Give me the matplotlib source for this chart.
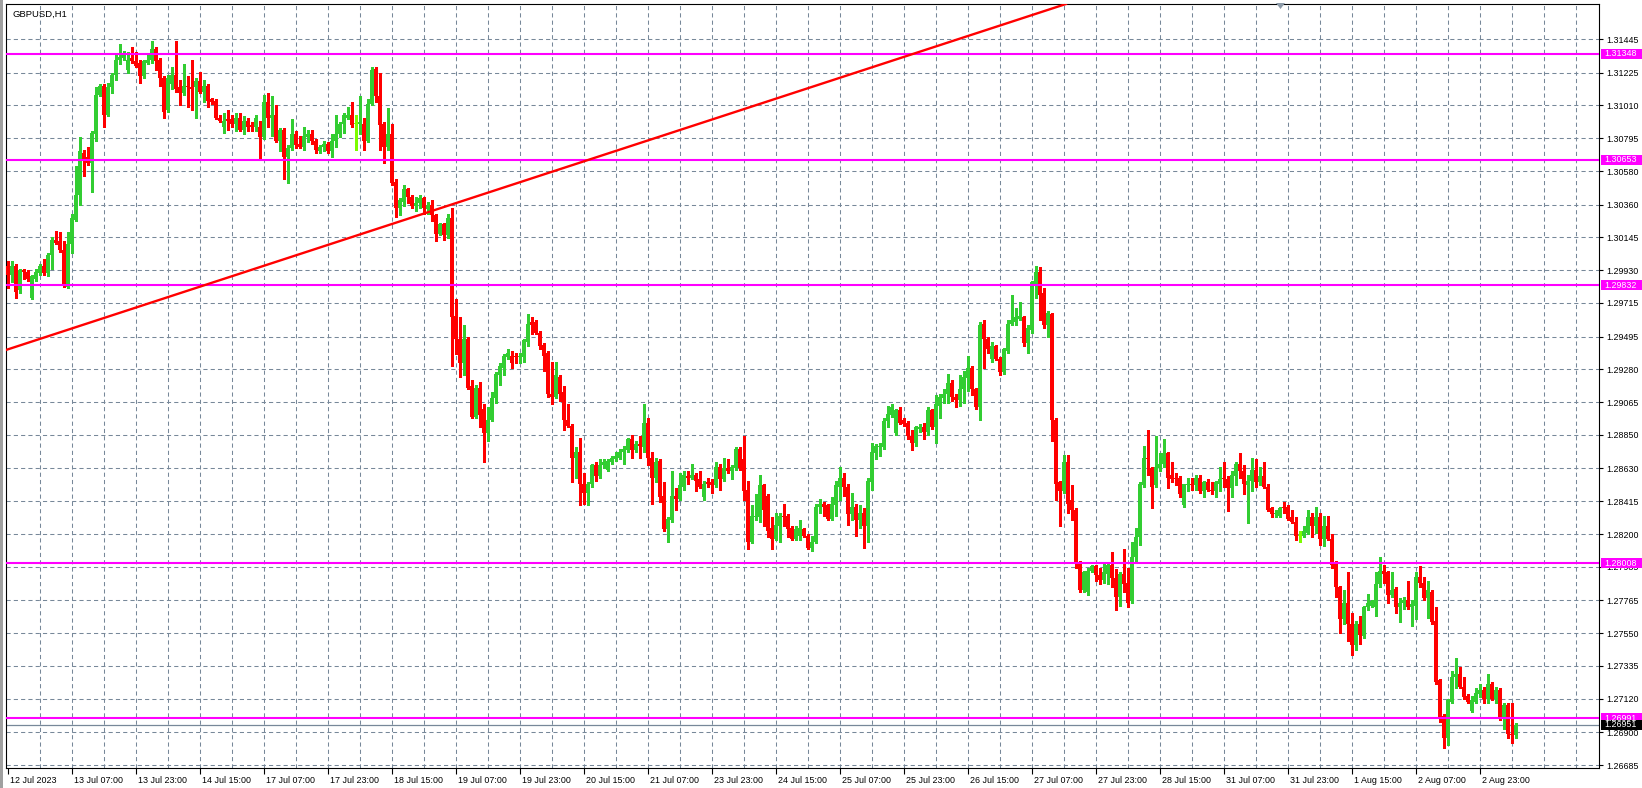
import numpy as np
import matplotlib
matplotlib.use('Agg')
import matplotlib.pyplot as plt
import matplotlib.transforms as mtransforms
from matplotlib.patches import Rectangle, Polygon

# GBPUSD H1 candles (open / high / low / close)
opens = [
    1.2996, 1.2990, 1.2996, 1.2980, 1.2993, 1.2992, 1.2975, 1.2987, 1.2991, 1.2996,
    1.2991, 1.3003, 1.3013, 1.3012, 1.3006, 1.2982, 1.3010, 1.3026, 1.3042, 1.3070,
    1.3067, 1.3063, 1.3082, 1.3108, 1.3114, 1.3095, 1.3113, 1.3121, 1.3131, 1.3132,
    1.3124, 1.3132, 1.3130, 1.3129, 1.3120, 1.3129, 1.3131, 1.3138, 1.3131, 1.3119,
    1.3098, 1.3115, 1.3121, 1.3113, 1.3109, 1.3114, 1.3113, 1.3113, 1.3117, 1.3110,
    1.3114, 1.3105, 1.3104, 1.3093, 1.3087, 1.3092, 1.3092, 1.3089, 1.3093, 1.3085,
    1.3091, 1.3088, 1.3087, 1.3087, 1.3080, 1.3103, 1.3093, 1.3095, 1.3078, 1.3085,
    1.3067, 1.3073, 1.3082, 1.3076, 1.3074, 1.3080, 1.3082, 1.3078, 1.3071, 1.3074,
    1.3076, 1.3071, 1.3078, 1.3082, 1.3089, 1.3093, 1.3095, 1.3089, 1.3089, 1.3089,
    1.3078, 1.3102, 1.3125, 1.3107, 1.3089, 1.3074, 1.3082, 1.3051, 1.3034, 1.3038,
    1.3046, 1.3041, 1.3035, 1.3037, 1.3040, 1.3033, 1.3036, 1.3029, 1.3017, 1.3023,
    1.3016, 1.3027, 1.2963, 1.2948, 1.2932, 1.2948, 1.2917, 1.2897, 1.2916, 1.2902,
    1.2886, 1.2895, 1.2909, 1.2924, 1.2929, 1.2936, 1.2937, 1.2937, 1.2936, 1.2936,
    1.2946, 1.2959, 1.2959, 1.2952, 1.2944, 1.2939, 1.2912, 1.2910, 1.2923, 1.2913,
    1.2895, 1.2891, 1.2870, 1.2874, 1.2853, 1.2847, 1.2853, 1.2865, 1.2858, 1.2865,
    1.2862, 1.2867, 1.2869, 1.2870, 1.2874, 1.2875, 1.2882, 1.2875, 1.2879, 1.2877,
    1.2893, 1.2870, 1.2857, 1.2868, 1.2845, 1.2823, 1.2829, 1.2845, 1.2843, 1.2851,
    1.2858, 1.2857, 1.2859, 1.2856, 1.2844, 1.2854, 1.2854, 1.2852, 1.2864, 1.2856,
    1.2863, 1.2861, 1.2863, 1.2876, 1.2869, 1.2849, 1.2815, 1.2831, 1.2831, 1.2852,
    1.2845, 1.2824, 1.2817, 1.2825, 1.2832, 1.2832, 1.2824, 1.2817, 1.2819, 1.2823,
    1.2819, 1.2811, 1.2815, 1.2838, 1.2840, 1.2839, 1.2830, 1.2839, 1.2851, 1.2857,
    1.2851, 1.2833, 1.2838, 1.2829, 1.2834, 1.2825, 1.2854, 1.2873, 1.2877, 1.2877,
    1.2894, 1.2898, 1.2886, 1.2901, 1.2895, 1.2893, 1.2884, 1.2880, 1.2889, 1.2890,
    1.2887, 1.2901, 1.2890, 1.2904, 1.2909, 1.2912, 1.2919, 1.2910, 1.2908, 1.2915,
    1.2922, 1.2929, 1.2915, 1.2903, 1.2958, 1.2948, 1.2935, 1.2943, 1.2935, 1.2926,
    1.2940, 1.2958, 1.2959, 1.2961, 1.2962, 1.2945, 1.2954, 1.2983, 1.2992, 1.2978,
    1.2957, 1.2964, 1.2895, 1.2854, 1.2848, 1.2867, 1.2842, 1.2836, 1.2801, 1.2783,
    1.2782, 1.2796, 1.2799, 1.2793, 1.2790, 1.2794, 1.2800, 1.2791, 1.2779, 1.2794,
    1.2788, 1.2776, 1.2805, 1.2818, 1.2852, 1.2870, 1.2863, 1.2852, 1.2863, 1.2866,
    1.2873, 1.2859, 1.2857, 1.2857, 1.2839, 1.2852, 1.2853, 1.2852, 1.2857, 1.2848,
    1.2854, 1.2849, 1.2848, 1.2853, 1.2857, 1.2856, 1.2850, 1.2858, 1.2866, 1.2861,
    1.2852, 1.2855, 1.2862, 1.2854, 1.2858, 1.2851, 1.2837, 1.2833, 1.2832, 1.2838,
    1.2838, 1.2831, 1.2828, 1.2819, 1.2819, 1.2821, 1.2831, 1.2825, 1.2831, 1.2817,
    1.2825, 1.2817, 1.2801, 1.2785, 1.2764, 1.2775, 1.2761, 1.2747, 1.2761, 1.2753,
    1.2772, 1.2773, 1.2772, 1.2787, 1.2796, 1.2795, 1.2780, 1.2784, 1.2772, 1.2775,
    1.2777, 1.2772, 1.2773, 1.2792, 1.2788, 1.2778, 1.2782, 1.2763, 1.2724, 1.2701,
    1.2686, 1.2710, 1.2726, 1.2728, 1.2720, 1.2714, 1.2704, 1.2710, 1.2715, 1.2718,
    1.2712, 1.2722, 1.2712, 1.2718, 1.2699, 1.2708, 1.2689, 1.2688,
]
highs = [
    1.2999, 1.2999, 1.2997, 1.2994, 1.2994, 1.2993, 1.2990, 1.2994, 1.2997, 1.3000,
    1.3004, 1.3015, 1.3019, 1.3018, 1.3012, 1.3018, 1.3030, 1.3061, 1.3080, 1.3072,
    1.3074, 1.3084, 1.3113, 1.3115, 1.3115, 1.3116, 1.3122, 1.3135, 1.3141, 1.3137,
    1.3136, 1.3139, 1.3136, 1.3131, 1.3131, 1.3135, 1.3143, 1.3139, 1.3132, 1.3120,
    1.3121, 1.3126, 1.3143, 1.3118, 1.3128, 1.3120, 1.3131, 1.3119, 1.3123, 1.3118,
    1.3115, 1.3106, 1.3105, 1.3095, 1.3096, 1.3098, 1.3095, 1.3096, 1.3096, 1.3094,
    1.3093, 1.3090, 1.3095, 1.3091, 1.3108, 1.3109, 1.3107, 1.3101, 1.3086, 1.3086,
    1.3075, 1.3092, 1.3084, 1.3081, 1.3087, 1.3085, 1.3085, 1.3079, 1.3075, 1.3078,
    1.3077, 1.3082, 1.3095, 1.3090, 1.3096, 1.3100, 1.3103, 1.3095, 1.3107, 1.3093,
    1.3105, 1.3126, 1.3126, 1.3122, 1.3090, 1.3099, 1.3089, 1.3053, 1.3040, 1.3049,
    1.3047, 1.3042, 1.3041, 1.3042, 1.3041, 1.3038, 1.3039, 1.3030, 1.3024, 1.3024,
    1.3030, 1.3034, 1.2974, 1.2962, 1.2957, 1.2949, 1.2921, 1.2918, 1.2920, 1.2905,
    1.2903, 1.2913, 1.2926, 1.2932, 1.2938, 1.2941, 1.2940, 1.2939, 1.2939, 1.2948,
    1.2964, 1.2962, 1.2960, 1.2953, 1.2945, 1.2940, 1.2933, 1.2933, 1.2924, 1.2917,
    1.2905, 1.2892, 1.2877, 1.2883, 1.2860, 1.2854, 1.2866, 1.2867, 1.2869, 1.2869,
    1.2869, 1.2871, 1.2874, 1.2876, 1.2878, 1.2883, 1.2885, 1.2881, 1.2884, 1.2905,
    1.2896, 1.2874, 1.2870, 1.2869, 1.2854, 1.2831, 1.2861, 1.2850, 1.2860, 1.2861,
    1.2861, 1.2866, 1.2860, 1.2861, 1.2855, 1.2857, 1.2856, 1.2867, 1.2866, 1.2870,
    1.2869, 1.2865, 1.2877, 1.2877, 1.2884, 1.2855, 1.2839, 1.2846, 1.2859, 1.2853,
    1.2846, 1.2831, 1.2834, 1.2834, 1.2840, 1.2833, 1.2825, 1.2825, 1.2829, 1.2824,
    1.2820, 1.2819, 1.2840, 1.2843, 1.2841, 1.2840, 1.2844, 1.2855, 1.2864, 1.2860,
    1.2853, 1.2847, 1.2840, 1.2839, 1.2837, 1.2857, 1.2880, 1.2879, 1.2880, 1.2896,
    1.2904, 1.2905, 1.2902, 1.2903, 1.2896, 1.2894, 1.2888, 1.2891, 1.2892, 1.2893,
    1.2903, 1.2902, 1.2911, 1.2912, 1.2915, 1.2925, 1.2921, 1.2912, 1.2924, 1.2927,
    1.2937, 1.2930, 1.2916, 1.2959, 1.2960, 1.2949, 1.2946, 1.2944, 1.2936, 1.2942,
    1.2960, 1.2977, 1.2968, 1.2972, 1.2963, 1.2957, 1.2986, 1.2996, 1.2995, 1.2981,
    1.2966, 1.2965, 1.2896, 1.2855, 1.2872, 1.2872, 1.2852, 1.2837, 1.2802, 1.2796,
    1.2798, 1.2800, 1.2800, 1.2798, 1.2801, 1.2801, 1.2808, 1.2797, 1.2795, 1.2810,
    1.2798, 1.2815, 1.2824, 1.2854, 1.2878, 1.2888, 1.2864, 1.2884, 1.2873, 1.2882,
    1.2874, 1.2867, 1.2860, 1.2858, 1.2853, 1.2857, 1.2857, 1.2859, 1.2859, 1.2855,
    1.2856, 1.2854, 1.2855, 1.2864, 1.2867, 1.2858, 1.2861, 1.2867, 1.2873, 1.2865,
    1.2859, 1.2870, 1.2869, 1.2864, 1.2867, 1.2853, 1.2838, 1.2836, 1.2838, 1.2841,
    1.2839, 1.2836, 1.2831, 1.2822, 1.2825, 1.2836, 1.2834, 1.2838, 1.2834, 1.2832,
    1.2832, 1.2820, 1.2802, 1.2786, 1.2783, 1.2795, 1.2768, 1.2763, 1.2766, 1.2773,
    1.2781, 1.2777, 1.2795, 1.2805, 1.2800, 1.2796, 1.2795, 1.2785, 1.2778, 1.2779,
    1.2789, 1.2777, 1.2795, 1.2799, 1.2792, 1.2789, 1.2783, 1.2772, 1.2725, 1.2702,
    1.2712, 1.2730, 1.2739, 1.2733, 1.2726, 1.2715, 1.2714, 1.2719, 1.2722, 1.2720,
    1.2728, 1.2723, 1.2720, 1.2719, 1.2709, 1.2709, 1.2709, 1.2696,
]
lows = [
    1.2981, 1.2985, 1.2975, 1.2978, 1.2987, 1.2986, 1.2974, 1.2986, 1.2990, 1.2990,
    1.2989, 1.2994, 1.3010, 1.3005, 1.2982, 1.2981, 1.3004, 1.3025, 1.3036, 1.3055,
    1.3062, 1.3044, 1.3078, 1.3107, 1.3087, 1.3094, 1.3109, 1.3118, 1.3128, 1.3131,
    1.3122, 1.3129, 1.3126, 1.3116, 1.3119, 1.3128, 1.3129, 1.3124, 1.3114, 1.3093,
    1.3097, 1.3112, 1.3110, 1.3101, 1.3108, 1.3100, 1.3098, 1.3093, 1.3109, 1.3103,
    1.3100, 1.3102, 1.3092, 1.3090, 1.3083, 1.3085, 1.3087, 1.3084, 1.3084, 1.3082,
    1.3084, 1.3084, 1.3084, 1.3065, 1.3079, 1.3087, 1.3081, 1.3077, 1.3071, 1.3053,
    1.3050, 1.3072, 1.3073, 1.3073, 1.3072, 1.3077, 1.3076, 1.3070, 1.3070, 1.3071,
    1.3070, 1.3067, 1.3074, 1.3080, 1.3083, 1.3092, 1.3087, 1.3072, 1.3082, 1.3072,
    1.3077, 1.3101, 1.3103, 1.3072, 1.3063, 1.3072, 1.3049, 1.3028, 1.3029, 1.3035,
    1.3037, 1.3034, 1.3032, 1.3034, 1.3030, 1.3030, 1.3025, 1.3012, 1.3016, 1.3013,
    1.3014, 1.2930, 1.2938, 1.2923, 1.2924, 1.2915, 1.2896, 1.2896, 1.2890, 1.2867,
    1.2881, 1.2894, 1.2906, 1.2918, 1.2924, 1.2935, 1.2929, 1.2932, 1.2932, 1.2933,
    1.2943, 1.2951, 1.2951, 1.2941, 1.2927, 1.2910, 1.2905, 1.2909, 1.2907, 1.2888,
    1.2890, 1.2854, 1.2857, 1.2839, 1.2840, 1.2839, 1.2851, 1.2855, 1.2857, 1.2863,
    1.2861, 1.2866, 1.2868, 1.2869, 1.2866, 1.2874, 1.2870, 1.2874, 1.2870, 1.2874,
    1.2865, 1.2840, 1.2854, 1.2841, 1.2822, 1.2815, 1.2828, 1.2836, 1.2842, 1.2849,
    1.2853, 1.2856, 1.2848, 1.2850, 1.2842, 1.2851, 1.2847, 1.2851, 1.2849, 1.2855,
    1.2860, 1.2856, 1.2862, 1.2862, 1.2842, 1.2810, 1.2814, 1.2829, 1.2828, 1.2825,
    1.2818, 1.2810, 1.2816, 1.2815, 1.2825, 1.2818, 1.2816, 1.2816, 1.2816, 1.2818,
    1.2810, 1.2809, 1.2814, 1.2834, 1.2832, 1.2829, 1.2829, 1.2832, 1.2842, 1.2845,
    1.2826, 1.2829, 1.2819, 1.2824, 1.2811, 1.2815, 1.2849, 1.2869, 1.2871, 1.2876,
    1.2890, 1.2897, 1.2885, 1.2892, 1.2891, 1.2882, 1.2875, 1.2878, 1.2887, 1.2882,
    1.2885, 1.2889, 1.2880, 1.2896, 1.2906, 1.2906, 1.2907, 1.2903, 1.2904, 1.2906,
    1.2914, 1.2911, 1.2902, 1.2895, 1.2929, 1.2939, 1.2933, 1.2934, 1.2924, 1.2925,
    1.2939, 1.2957, 1.2957, 1.2960, 1.2943, 1.2939, 1.2952, 1.2975, 1.2960, 1.2955,
    1.2949, 1.2881, 1.2842, 1.2825, 1.2847, 1.2834, 1.2829, 1.2798, 1.2782, 1.2782,
    1.2780, 1.2795, 1.2789, 1.2787, 1.2788, 1.2787, 1.2785, 1.2770, 1.2773, 1.2782,
    1.2772, 1.2775, 1.2801, 1.2813, 1.2851, 1.2859, 1.2837, 1.2851, 1.2861, 1.2864,
    1.2850, 1.2854, 1.2852, 1.2844, 1.2838, 1.2848, 1.2849, 1.2849, 1.2847, 1.2844,
    1.2848, 1.2846, 1.2844, 1.2848, 1.2851, 1.2835, 1.2844, 1.2852, 1.2857, 1.2846,
    1.2827, 1.2848, 1.2851, 1.2852, 1.2850, 1.2835, 1.2831, 1.2831, 1.2831, 1.2834,
    1.2829, 1.2827, 1.2816, 1.2815, 1.2818, 1.2820, 1.2818, 1.2821, 1.2813, 1.2812,
    1.2816, 1.2798, 1.2779, 1.2755, 1.2761, 1.2750, 1.2741, 1.2744, 1.2748, 1.2752,
    1.2770, 1.2772, 1.2766, 1.2785, 1.2788, 1.2775, 1.2779, 1.2768, 1.2762, 1.2771,
    1.2771, 1.2760, 1.2764, 1.2785, 1.2777, 1.2765, 1.2761, 1.2722, 1.2697, 1.2680,
    1.2682, 1.2709, 1.2719, 1.2719, 1.2712, 1.2709, 1.2703, 1.2709, 1.2713, 1.2709,
    1.2709, 1.2711, 1.2709, 1.2698, 1.2692, 1.2686, 1.2683, 1.2686,
]
closes = [
    1.2990, 1.2996, 1.2979, 1.2993, 1.2992, 1.2987, 1.2989, 1.2992, 1.2996, 1.2991,
    1.3003, 1.3013, 1.3011, 1.3006, 1.2983, 1.3010, 1.3027, 1.3042, 1.3071, 1.3066,
    1.3063, 1.3083, 1.3108, 1.3114, 1.3095, 1.3113, 1.3121, 1.3131, 1.3133, 1.3135,
    1.3131, 1.3130, 1.3127, 1.3120, 1.3130, 1.3131, 1.3138, 1.3130, 1.3119, 1.3097,
    1.3119, 1.3121, 1.3112, 1.3109, 1.3114, 1.3113, 1.3112, 1.3117, 1.3110, 1.3114,
    1.3104, 1.3103, 1.3093, 1.3091, 1.3091, 1.3091, 1.3089, 1.3093, 1.3085, 1.3091,
    1.3087, 1.3087, 1.3093, 1.3080, 1.3103, 1.3093, 1.3095, 1.3078, 1.3085, 1.3067,
    1.3073, 1.3082, 1.3075, 1.3074, 1.3081, 1.3082, 1.3078, 1.3072, 1.3074, 1.3076,
    1.3071, 1.3078, 1.3082, 1.3089, 1.3095, 1.3095, 1.3088, 1.3089, 1.3090, 1.3078,
    1.3102, 1.3124, 1.3107, 1.3088, 1.3074, 1.3082, 1.3050, 1.3034, 1.3039, 1.3046,
    1.3041, 1.3035, 1.3037, 1.3040, 1.3034, 1.3036, 1.3029, 1.3017, 1.3023, 1.3016,
    1.3027, 1.2962, 1.2948, 1.2932, 1.2948, 1.2916, 1.2897, 1.2916, 1.2898, 1.2886,
    1.2895, 1.2909, 1.2925, 1.2930, 1.2937, 1.2939, 1.2932, 1.2936, 1.2937, 1.2947,
    1.2958, 1.2957, 1.2952, 1.2943, 1.2937, 1.2912, 1.2910, 1.2924, 1.2912, 1.2895,
    1.2891, 1.2870, 1.2874, 1.2853, 1.2847, 1.2853, 1.2865, 1.2858, 1.2865, 1.2867,
    1.2868, 1.2870, 1.2871, 1.2874, 1.2876, 1.2882, 1.2875, 1.2879, 1.2878, 1.2893,
    1.2870, 1.2857, 1.2867, 1.2844, 1.2823, 1.2830, 1.2845, 1.2843, 1.2852, 1.2859,
    1.2857, 1.2859, 1.2855, 1.2851, 1.2853, 1.2853, 1.2852, 1.2864, 1.2856, 1.2863,
    1.2861, 1.2864, 1.2876, 1.2863, 1.2848, 1.2815, 1.2832, 1.2832, 1.2852, 1.2836,
    1.2822, 1.2817, 1.2826, 1.2832, 1.2831, 1.2823, 1.2817, 1.2823, 1.2824, 1.2819,
    1.2811, 1.2815, 1.2838, 1.2840, 1.2838, 1.2830, 1.2840, 1.2852, 1.2857, 1.2851,
    1.2833, 1.2838, 1.2829, 1.2834, 1.2825, 1.2855, 1.2874, 1.2878, 1.2878, 1.2894,
    1.2899, 1.2903, 1.2901, 1.2893, 1.2892, 1.2884, 1.2880, 1.2890, 1.2890, 1.2887,
    1.2901, 1.2890, 1.2905, 1.2910, 1.2912, 1.2919, 1.2910, 1.2908, 1.2915, 1.2923,
    1.2929, 1.2915, 1.2903, 1.2957, 1.2948, 1.2941, 1.2943, 1.2935, 1.2926, 1.2941,
    1.2958, 1.2960, 1.2962, 1.2963, 1.2945, 1.2955, 1.2985, 1.2992, 1.2977, 1.2957,
    1.2965, 1.2895, 1.2853, 1.2848, 1.2867, 1.2840, 1.2836, 1.2801, 1.2783, 1.2795,
    1.2796, 1.2799, 1.2793, 1.2790, 1.2795, 1.2800, 1.2791, 1.2779, 1.2794, 1.2787,
    1.2775, 1.2805, 1.2818, 1.2853, 1.2870, 1.2869, 1.2851, 1.2864, 1.2866, 1.2873,
    1.2857, 1.2856, 1.2856, 1.2846, 1.2853, 1.2853, 1.2852, 1.2857, 1.2848, 1.2854,
    1.2849, 1.2848, 1.2854, 1.2856, 1.2856, 1.2850, 1.2859, 1.2866, 1.2861, 1.2853,
    1.2855, 1.2862, 1.2854, 1.2858, 1.2851, 1.2836, 1.2833, 1.2834, 1.2837, 1.2837,
    1.2830, 1.2828, 1.2819, 1.2819, 1.2822, 1.2831, 1.2825, 1.2831, 1.2817, 1.2825,
    1.2817, 1.2800, 1.2785, 1.2764, 1.2775, 1.2761, 1.2747, 1.2761, 1.2754, 1.2772,
    1.2775, 1.2776, 1.2787, 1.2796, 1.2794, 1.2780, 1.2783, 1.2772, 1.2775, 1.2777,
    1.2772, 1.2774, 1.2792, 1.2788, 1.2778, 1.2783, 1.2762, 1.2723, 1.2700, 1.2686,
    1.2711, 1.2726, 1.2728, 1.2720, 1.2713, 1.2710, 1.2711, 1.2716, 1.2718, 1.2712,
    1.2722, 1.2712, 1.2718, 1.2699, 1.2708, 1.2689, 1.2688, 1.26951,
]

time_labels = ['12 Jul 2023', '13 Jul 07:00', '13 Jul 23:00', '14 Jul 15:00', '17 Jul 07:00',
               '17 Jul 23:00', '18 Jul 15:00', '19 Jul 07:00', '19 Jul 23:00', '20 Jul 15:00',
               '21 Jul 07:00', '23 Jul 23:00', '24 Jul 15:00', '25 Jul 07:00', '25 Jul 23:00',
               '26 Jul 15:00', '27 Jul 07:00', '27 Jul 23:00', '28 Jul 15:00', '31 Jul 07:00',
               '31 Jul 23:00', '1 Aug 15:00', '2 Aug 07:00', '2 Aug 23:00']
price_ticks = [1.31445, 1.31225, 1.31010, 1.30795, 1.30580, 1.30360, 1.30145, 1.29930,
               1.29715, 1.29495, 1.29280, 1.29065, 1.28850, 1.28630, 1.28415, 1.28200,
               1.27985, 1.27765, 1.27550, 1.27335, 1.27120, 1.26900, 1.26685]
levels = [1.31348, 1.30653, 1.29832, 1.28008, 1.26991]
bid_price = 1.26951
trend_x = [0, 250]
trend_y = [1.2941, 1.3155]

W, H = 1642, 788
FONT = 'Liberation Sans'
GRID = '#778899'

fig = plt.figure(figsize=(W / 100, H / 100), dpi=100)
fig.patch.set_facecolor('white')
ax = fig.add_axes([6 / W, 1 - 768 / H, (1599 - 6) / W, (768 - 4) / H])
ax.set_facecolor('white')
ax.set_xlim(-0.375, 397.875)
ax.set_ylim(1.26666, 1.31675)
dpp = (1.31675 - 1.26666) / 764.0  # price per pixel

# grid
for x in range(8, 398, 8):
    ax.axvline(x, color=GRID, lw=0.75, linestyle=(0, (4, 3)), zorder=1)
for p in price_ticks:
    ax.axhline(p, color=GRID, lw=0.75, linestyle=(0, (4, 3)), zorder=1)

# bid line
ax.axhline(bid_price, color=GRID, lw=0.9, zorder=2)

# candles
o = np.array(opens)
h = np.array(highs)
l = np.array(lows)
c = np.array(closes)
idx = np.arange(len(c))
cols = np.where(c > o, '#32CD32', np.where(c < o, '#FF0000', '#7CFC00'))
ax.vlines(idx, l, h, colors=cols, linewidth=0.8, zorder=3, antialiased=False)
body_h = np.maximum(np.abs(c - o), dpp * 0.9)
ax.bar(idx, body_h, bottom=np.minimum(o, c), width=0.74, color=cols,
       linewidth=0, zorder=4, antialiased=False)

# horizontal levels and trend line
for lv in levels:
    ax.axhline(lv, color='#FF00FF', lw=1.5, zorder=5)
ax.axline((trend_x[0], trend_y[0]), (trend_x[1], trend_y[1]), color='#FF0000', lw=1.7, zorder=5)

# axes frame
for s in ax.spines.values():
    s.set_color('black')
    s.set_linewidth(0.8)

# price axis on the right
ax.yaxis.tick_right()
ax.set_yticks(price_ticks)
ax.set_yticklabels(['%.5f' % p for p in price_ticks])
ax.tick_params(axis='y', which='both', left=False, right=True, length=3, width=0.8,
               pad=2, labelsize=6.4, colors='black')

# time axis
ax.set_xticks(range(0, 16 * len(time_labels), 16))
ax.set_xticklabels(time_labels)
ax.tick_params(axis='x', length=4, width=0.8, pad=2, labelsize=6.4, colors='black')
shift = mtransforms.ScaledTranslation(2 / 100, 0, fig.dpi_scale_trans)
for t in ax.get_xticklabels() + ax.get_yticklabels():
    t.set_fontfamily(FONT)
for t in ax.get_xticklabels():
    t.set_horizontalalignment('left')
    t.set_transform(t.get_transform() + shift)

# price boxes on the right axis
trans = mtransforms.blended_transform_factory(fig.transFigure, ax.transData)
box_h = 10 * dpp
for lv in levels:
    ax.add_patch(Rectangle((1601 / W, lv - box_h / 2), (W - 1601) / W, box_h, transform=trans,
                           facecolor='#FF00FF', edgecolor='none', clip_on=False, zorder=10))
    ax.text(1604 / W, lv, '%.5f' % lv, transform=trans, color='white', fontsize=6.4,
            family=FONT, va='center', ha='left', clip_on=False, zorder=11)
ax.add_patch(Rectangle((1601 / W, bid_price - box_h / 2), (W - 1601) / W, box_h, transform=trans,
                       facecolor='black', edgecolor='none', clip_on=False, zorder=10))
ax.text(1604 / W, bid_price, '%.5f' % bid_price, transform=trans, color='white', fontsize=6.4,
        family=FONT, va='center', ha='left', clip_on=False, zorder=11)

# chart title and window bits
fig.text(12 / W, 1 - 14 / H, 'GBPUSD,H1', fontsize=6.8, family=FONT, va='center', ha='left')
fig.patches.append(Rectangle((0, 0), 3 / W, 1, transform=fig.transFigure,
                             facecolor='#a0a0a0', edgecolor='none'))
fig.patches.append(Polygon([(1276 / W, 1 - 3 / H), (1285 / W, 1 - 3 / H), (1280.5 / W, 1 - 9 / H)],
                           closed=True, transform=fig.transFigure,
                           facecolor='#8c9aa8', edgecolor='none'))

fig.savefig('out.png', dpi=100, facecolor='white')
